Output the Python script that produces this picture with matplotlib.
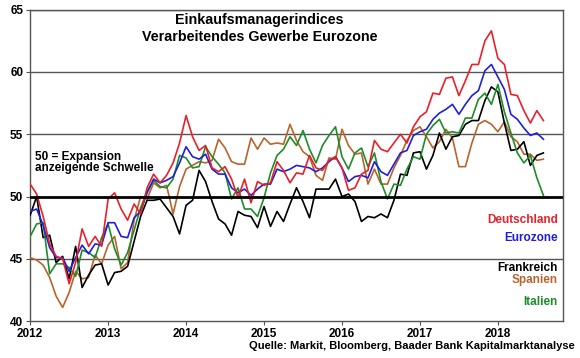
import numpy as np
import matplotlib
matplotlib.use("Agg")
import matplotlib.pyplot as plt

# Einkaufsmanagerindizes Verarbeitendes Gewerbe, monatlich Jan 2012 - Aug 2018
start_year = 2012
deutschland = [51.0, 50.2, 48.4, 46.2, 45.2, 45.0, 43.0, 44.7, 47.4, 46.0, 46.8, 46.0,
               49.8, 50.3, 49.0, 48.1, 49.4, 48.6, 50.7, 51.8, 51.1, 51.7, 52.7, 54.3,
               56.5, 54.8, 53.7, 54.1, 52.3, 52.0, 52.4, 51.4, 49.9, 51.4, 49.5, 51.2,
               50.9, 51.1, 52.8, 52.1, 51.1, 51.9, 51.8, 53.3, 52.3, 52.1, 52.9, 53.2,
               52.3, 50.5, 50.7, 51.8, 52.1, 54.5, 53.8, 53.6, 54.3, 55.0, 54.3, 55.6,
               56.4, 56.8, 58.3, 58.2, 59.5, 59.6, 58.1, 59.3, 60.6, 60.6, 62.5, 63.3,
               61.1, 60.6, 58.2, 58.1, 56.9, 55.9, 56.9, 56.1]
eurozone = [48.8, 49.0, 47.7, 45.9, 45.1, 45.1, 44.0, 45.1, 46.1, 45.4, 46.2, 46.1,
            47.9, 47.9, 46.8, 46.7, 48.3, 48.8, 50.3, 51.4, 51.1, 51.3, 51.6, 52.7,
            54.0, 53.2, 53.0, 53.4, 52.2, 51.8, 51.8, 50.7, 50.3, 50.6, 50.1, 50.6,
            51.0, 51.0, 52.2, 52.0, 52.2, 52.5, 52.4, 52.3, 52.0, 52.3, 52.8, 53.2,
            52.3, 51.2, 51.6, 51.7, 51.5, 52.8, 52.0, 51.7, 52.6, 53.5, 53.7, 54.9,
            55.2, 55.4, 56.2, 56.7, 57.0, 57.4, 56.6, 57.4, 58.1, 58.5, 60.1, 60.6,
            59.6, 58.6, 56.6, 56.2, 55.5, 54.9, 55.1, 54.6]
frankreich = [48.5, 50.0, 46.7, 46.9, 44.7, 45.2, 43.4, 46.0, 42.7, 43.7, 44.5, 44.6,
              42.9, 43.9, 44.0, 44.4, 46.4, 48.4, 49.7, 49.7, 49.8, 49.1, 48.4, 47.0,
              49.3, 49.7, 52.1, 51.2, 49.6, 48.2, 47.8, 46.9, 48.8, 48.5, 48.4, 47.5,
              49.2, 47.6, 48.8, 48.0, 49.4, 50.7, 49.6, 48.3, 50.6, 50.6, 50.6, 51.4,
              50.0, 50.2, 49.6, 48.0, 48.4, 48.3, 48.6, 48.3, 49.7, 51.8, 51.7, 53.5,
              53.6, 52.2, 53.3, 55.1, 53.8, 54.8, 54.9, 55.8, 56.1, 56.1, 57.7, 58.8,
              58.4, 55.9, 53.7, 53.8, 54.4, 52.5, 53.3, 53.5]
spanien = [45.1, 44.9, 44.5, 43.5, 42.0, 41.1, 42.3, 44.0, 43.4, 43.5, 45.3, 44.6,
           46.1, 46.8, 44.2, 44.7, 48.1, 50.0, 49.8, 51.1, 50.7, 50.9, 48.6, 50.8,
           52.2, 52.5, 52.8, 52.7, 52.9, 54.6, 53.9, 52.8, 52.6, 52.6, 54.7, 53.8,
           54.7, 54.2, 54.3, 54.2, 55.8, 54.5, 53.6, 53.2, 51.7, 51.3, 53.1, 53.0,
           55.4, 54.1, 53.4, 53.5, 51.0, 52.2, 51.0, 51.0, 52.3, 53.3, 54.5, 55.3,
           55.6, 54.8, 53.9, 54.4, 55.4, 54.7, 52.4, 52.4, 54.3, 55.8, 56.1, 55.8,
           55.2, 56.0, 54.8, 54.4, 53.4, 53.4, 52.9, 53.0]
italien = [46.8, 47.8, 47.9, 43.8, 44.6, 44.6, 44.3, 43.6, 45.7, 45.5, 45.1, 46.7,
           47.8, 45.8, 44.5, 45.5, 47.3, 49.1, 50.4, 51.3, 50.8, 50.7, 51.4, 53.3,
           53.1, 52.3, 52.4, 54.0, 53.2, 52.6, 51.9, 49.8, 50.7, 49.0, 49.0, 48.4,
           49.9, 51.9, 53.3, 53.8, 54.8, 54.1, 55.3, 53.8, 52.7, 54.1, 54.9, 55.6,
           53.2, 52.2, 53.5, 53.9, 52.4, 53.5, 51.2, 49.8, 51.0, 50.9, 52.2, 53.2,
           53.0, 55.0, 55.7, 56.2, 55.1, 55.2, 55.1, 56.3, 56.3, 57.8, 58.3, 57.4,
           59.0, 56.8, 55.1, 53.5, 52.7, 53.3, 51.5, 50.1]

laender = ["Deutschland", "Eurozone", "Frankreich", "Spanien", "Italien"]
farben = ["#e8202a", "#2020d8", "#000000", "#b8642c", "#1f8c2a"]
jahre = [2012, 2013, 2014, 2015, 2016, 2017, 2018]

plt.rcParams['font.family'] = ['Liberation Sans', 'DejaVu Sans']

fig = plt.figure(figsize=(5.8, 3.58), dpi=100)
ax = fig.add_axes([0.052, 0.103, 0.918, 0.870])

x = start_year + np.arange(len(eurozone)) / 12.0
serien = [deutschland, eurozone, frankreich, spanien, italien]

# Reihenfolge beim Zeichnen: Deutschland zuletzt oben
for idx in [3, 2, 4, 1, 0]:
    ax.plot(x, serien[idx], color=farben[idx], lw=1.2, zorder=3)

for g in [45, 55, 60, 65]:
    ax.axhline(g, color="#555555", lw=1.0, zorder=1)
ax.axhline(50, color="black", lw=2.0, zorder=4)

ax.set_xlim(2012, 2018.83)
ax.set_ylim(40, 65)
ax.set_yticks([40, 45, 50, 55, 60, 65])
ax.set_xticks(jahre)
ax.set_xticklabels([str(j) for j in jahre])
for lab in ax.get_xticklabels() + ax.get_yticklabels():
    lab.set_fontweight("bold")
    lab.set_fontsize(8.5)
ax.tick_params(axis="both", length=3, width=0.8, color="#555555", pad=2)
for s in ax.spines.values():
    s.set_color("#555555")
    s.set_linewidth(1.0)

# Titel, zwei Zeilen
fig.text(0.447, 0.944, "Einkaufsmanagerindices", ha="center", va="center",
         fontsize=10.3, fontweight="bold")
fig.text(0.447, 0.897, "Verarbeitendes Gewerbe Eurozone", ha="center", va="center",
         fontsize=10.3, fontweight="bold")

ax.text(2012.06, 53.16, "50 = Expansion", ha="left", va="center",
        fontsize=8.5, fontweight="bold")
ax.text(2012.06, 52.28, "anzeigende Schwelle", ha="left", va="center",
        fontsize=8.5, fontweight="bold")

label_y = [48.1, 46.7, 44.3, 43.3, 41.5]
for name, farbe, yy in zip(laender, farben, label_y):
    ax.text(2018.77, yy, name, color=farbe, ha="right", va="center",
            fontsize=8.5, fontweight="bold")

fig.text(0.991, 0.034, "Quelle: Markit, Bloomberg, Baader Bank Kapitalmarktanalyse",
         ha="right", va="center", fontsize=8, fontweight="bold")

fig.savefig("out.png", dpi=100)
